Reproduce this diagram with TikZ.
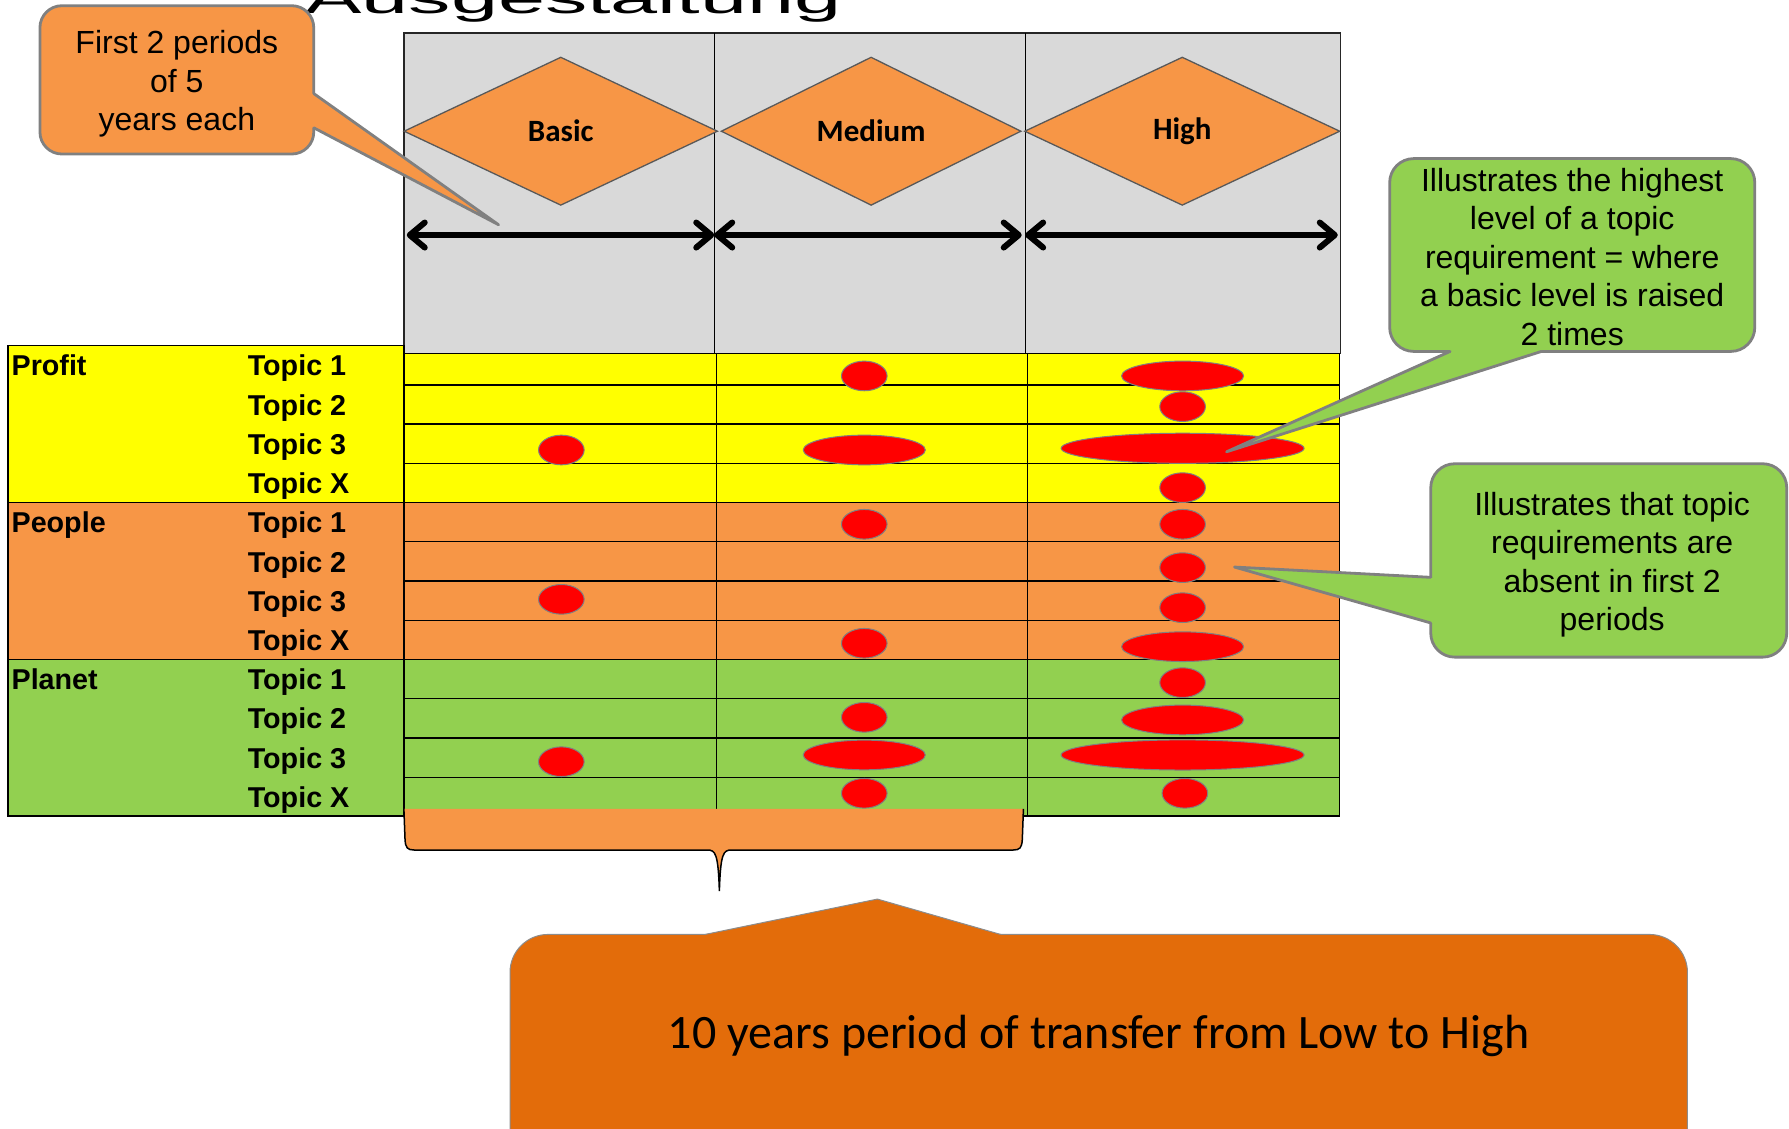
\documentclass[tikz,border=0pt]{standalone}
\usepackage{graphicx}
\usepackage{fontspec}
\setmainfont{Liberation Sans}
\newfontfamily\calfont{Carlito}
\usetikzlibrary{shapes.geometric,arrows.meta}
\definecolor{pyellow}{HTML}{FFFF00}
\definecolor{porange}{HTML}{F79646}
\definecolor{pgreen}{HTML}{92D050}
\definecolor{dorange}{HTML}{E36C0A}
\definecolor{hgray}{HTML}{D9D9D9}
\definecolor{cborder}{HTML}{808080}
\definecolor{pred}{HTML}{FF0000}
\begin{document}
\begin{tikzpicture}[x=1.14094pt, y=-1.14094pt,
  tline/.style={draw=black, line width=1.3pt},
  lbl/.style={anchor=base west, inner sep=0pt, font=\bfseries\fontsize{28.7}{34}\selectfont},
  dia/.style={diamond, fill=porange, draw=black!65, line width=1.3pt, inner sep=0pt, font=\calfont\bfseries\fontsize{31}{36}\selectfont},
  redspot/.style n args={2}{ellipse, fill=pred, draw=black!50, line width=1pt, inner sep=0pt, minimum width=#1*2.28188pt, minimum height=#2*2.28188pt},
  dimarrow/.style={line width=6pt, {Straight Barb[length=15pt,width=25pt,round]}-{Straight Barb[length=15pt,width=25pt,round]}},
  callbox/.style={draw=cborder, line width=2.8pt, inner sep=0pt},
  cside/.style={draw=cborder, line width=2.8pt, line join=round, line cap=round},
  ctext/.style={inner sep=0pt, align=center, anchor=north, font=\fontsize{32}{38.5}\selectfont},
]
\useasboundingbox (0,0) rectangle (1568,989);

% title (cut at the top of the picture)
\node[anchor=base, inner sep=0pt] (title) at (502.5,12) {\scalebox{1}[0.5]{\fontsize{84.6}{90}\selectfont Ausgestaltung}};

% header
\filldraw[fill=hgray, draw=black!85, line width=1.3pt] (354,29) rectangle (1175,309.7);
\draw[tline] (626,29) -- (626,309.7);
\draw[tline] (898.5,29) -- (898.5,309.7);

\node[dia, minimum width=275*1.14094pt, minimum height=130*1.14094pt] (dbasic) at (491.5,115) {Basic};
\node[dia, minimum width=263*1.14094pt, minimum height=130*1.14094pt] (dmed) at (763.5,115) {Medium};
\node[dia, minimum width=276.5*1.14094pt, minimum height=130*1.14094pt] (dhigh) at (1036.2,115) {High};

\coordinate (a0) at (356.5,206);
\coordinate (a1) at (626,206);
\coordinate (a2) at (895.5,206);
\coordinate (a3) at (898.5,206);
\coordinate (a4) at (1172.5,206);
\draw[dimarrow] (a0) -- (a1);
\draw[dimarrow] (a1) -- (a2);
\draw[dimarrow] (a3) -- (a4);

% table fills
\fill[pyellow] (7,303) rectangle (354,440.6);
\fill[porange] (7,440.6) rectangle (354,577.8);
\fill[pgreen] (7,577.8) rectangle (354,715.2);
\fill[pyellow] (354,309.7) rectangle (1174,440.6);
\fill[porange] (354,440.6) rectangle (1174,577.8);
\fill[pgreen] (354,577.8) rectangle (1174,715.2);

% table lines
\draw[tline] (7,303) rectangle (354,715.2);
\draw[tline] (354,309.7) rectangle (1174,715.2);
\foreach \yy in {337.4,371.6,406.1,474.8,509.2,543.6,612.3,646.8,681.3}
  \draw[tline] (354,\yy) -- (1174,\yy);
\draw[tline] (7,440.6) -- (1174,440.6);
\draw[tline] (7,577.8) -- (1174,577.8);
\draw[tline] (628,309.7) -- (628,715.2);
\draw[tline] (900.8,309.7) -- (900.8,715.2);

% row labels
\node[lbl] (gprofit) at (10,329.5) {Profit};
\node[lbl] (gpeople) at (10,467) {People};
\node[lbl] (gplanet) at (10,604.5) {Planet};
\foreach \t/\yy [count=\k] in {Topic 1/329.5, Topic 2/364, Topic 3/398.3, Topic X/432.7,
  Topic 1/467, Topic 2/501.4, Topic 3/535.8, Topic X/570.2,
  Topic 1/604.5, Topic 2/638.9, Topic 3/673.3, Topic X/707.7}
  \node[lbl] (topic\k) at (217,\yy) {\t};

% red marks
\foreach \xx/\yy/\rx/\ry [count=\k] in {
  492/394.4/20/13, 492/525.3/20/13, 492/667.6/20/13,
  757.5/329.5/20/13, 757.5/394.4/53.5/13, 757.5/459.5/20/13, 757.5/563.8/20/13,
  757.5/628.7/20/13, 757.5/661.7/53.5/13, 757.5/695.3/20/13,
  1036.5/329.5/53.5/13, 1036.5/356.4/20/13, 1036.5/392.9/106.5/13.2, 1036.5/427.4/20/13,
  1036.5/459.5/20/13, 1036.5/497.5/20/13, 1036.5/532.6/20/13, 1036.5/566.8/53.5/13,
  1036.5/598.3/20/13, 1036.5/631/53.5/13, 1036.5/661.7/106.5/13.2, 1038.5/695.3/20/13}
  \node[redspot={\rx}{\ry}] (mark\k) at (\xx,\yy) {};

% brace under the first two periods
\coordinate (bracetip) at (630.5,781);
\fill[porange] (354,709) -- (355,736) .. controls (355.5,743) and (357,745) .. (363,745) -- (620,745)
  .. controls (627,745) and (629.5,748) .. (bracetip) .. controls (631.5,748) and (634,745) .. (641,745)
  -- (888,745) .. controls (894,745) and (895.5,743) .. (896,736) -- (897,709) -- cycle;
\draw[line width=1.5pt] (354,709) -- (355,736) .. controls (355.5,743) and (357,745) .. (363,745) -- (620,745)
  .. controls (627,745) and (629.5,748) .. (bracetip) .. controls (631.5,748) and (634,745) .. (641,745)
  -- (888,745) .. controls (894,745) and (895.5,743) .. (896,736) -- (897,709);

% callout 1
\node[callbox, fill=porange, rounded corners=22pt, minimum width=240*1.14094pt, minimum height=130*1.14094pt] (c1) at (155,70) {};
\coordinate (c1tip) at (437,197);
\fill[porange] (272,82) -- (275,82) -- (c1tip) -- (275,112) -- (272,112) -- cycle;
\draw[cside] (275,82) -- (c1tip) -- (275,112);
\node[ctext] (c1text) at (155,26.5) {First 2 periods\\of 5\\years each};

% callout 2
\node[callbox, fill=pgreen, rounded corners=24pt, minimum width=320*1.14094pt, minimum height=169*1.14094pt] (c2) at (1378,223.5) {};
\coordinate (c2tip) at (1075,396);
\fill[pgreen] (1271,305) -- (1271,308) -- (c2tip) -- (1351,308) -- (1351,305) -- cycle;
\draw[cside] (1271,308) -- (c2tip) -- (1351,308);
\node[ctext] (c2text) at (1378,147) {Illustrates the highest\\level of a topic\\requirement = where\\a basic level is raised\\2 times};

% callout 3
\node[callbox, fill=pgreen, rounded corners=24pt, minimum width=312*1.14094pt, minimum height=169.5*1.14094pt] (c3) at (1410,491.2) {};
\coordinate (c3tip) at (1082,497);
\fill[pgreen] (1257,506) -- (1254,506) -- (c3tip) -- (1254,546) -- (1257,546) -- cycle;
\draw[cside] (1254,506) -- (c3tip) -- (1254,546);
\node[ctext] (c3text) at (1413,431) {Illustrates that topic\\requirements are\\absent in first 2\\periods};

% bottom callout
\node[draw=black!45, line width=1pt, fill=dorange, rounded corners=38pt, inner sep=0pt, minimum width=1032*1.14094pt, minimum height=231*1.14094pt] (c4) at (963,934.5) {};
\coordinate (c4tip) at (769,788);
\fill[dorange] (618,822) -- (618,819) -- (c4tip) -- (877,819) -- (877,822) -- cycle;
\draw[draw=black!45, line width=1pt, line join=round] (618,819) -- (c4tip) -- (877,819);
\node[anchor=base, inner sep=0pt, font=\calfont\fontsize{48}{56}\selectfont] (c4text) at (963,918.6) {10 years period of transfer from Low to High};
\end{tikzpicture}
\end{document}
